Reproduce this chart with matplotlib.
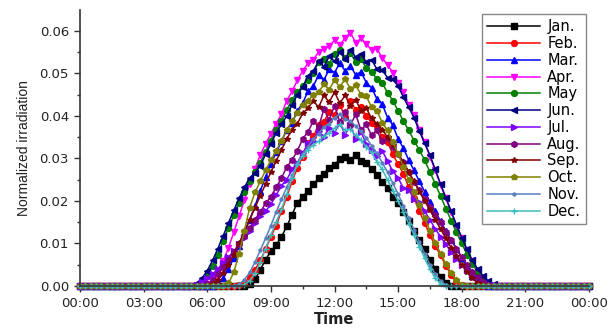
import numpy as np
import matplotlib
matplotlib.use("Agg")
import matplotlib.pyplot as plt
from matplotlib.ticker import MultipleLocator, FormatStrFormatter

# normalized irradiation, read at 15 min steps (values x 1e-3)
STEP = 0.25
months = ["Jan.", "Feb.", "Mar.", "Apr.", "May", "Jun.",
          "Jul.", "Aug.", "Sep.", "Oct.", "Nov.", "Dec."]
# hour of first sample of each month list
rise = [7.75, 7.25, 6.25, 5.75, 5.5, 5.25, 5.25, 5.75, 6.0, 6.75, 7.25, 7.5]

jan = [0, 0.4, 1.6, 3.8, 6.2, 8.2, 9.6, 11.6, 14.0, 16.8, 19.6, 21.0, 22.4, 23.9,
       25.3, 26.4, 27.8, 28.5, 29.8, 30.4, 29.6, 30.9, 29.4, 28.9, 27.4, 26.0, 24.5,
       23.1, 21.0, 19.4, 17.5, 15.2, 13.0, 10.8, 8.6, 6.2, 4.1, 2.2, 0.8, 0.1, 0]
feb = [0, 0.2, 0.8, 2.0, 3.8, 6.0, 8.6, 11.6, 14.2, 17.6, 21.0, 24.6, 27.8, 30.4,
       33.6, 35.2, 37.8, 38.6, 41.0, 40.2, 42.6, 39.8, 43.6, 41.4, 42.2, 40.0, 38.4,
       37.6, 35.0, 33.8, 31.0, 28.6, 26.4, 23.2, 20.8, 17.6, 14.8, 12.0, 9.4, 7.2,
       4.8, 2.6, 1.0, 0.2, 0]
mar = [0, 0.5, 1.8, 4.0, 6.6, 9.4, 12.4, 15.6, 18.8, 22.4, 25.6, 28.8, 31.4, 34.0,
       36.8, 38.4, 41.2, 43.0, 45.8, 47.0, 49.6, 48.4, 51.0, 50.2, 52.4, 50.6, 51.8,
       49.6, 50.4, 47.8, 46.6, 44.0, 42.8, 39.6, 37.8, 34.6, 32.4, 29.6, 27.2, 24.6,
       22.2, 19.8, 17.6, 15.2, 13.0, 10.8, 8.8, 6.6, 4.4, 2.4, 0.9, 0.2, 0]
apr = [0, 0.4, 1.4, 3.2, 5.8, 9.0, 12.6, 16.4, 20.2, 24.0, 27.6, 30.8, 33.4, 35.8,
       38.2, 40.4, 43.6, 45.8, 48.4, 50.6, 52.4, 53.2, 55.0, 55.8, 56.4, 57.8, 56.6,
       58.4, 59.6, 57.2, 58.2, 57.0, 55.4, 55.8, 53.6, 52.0, 50.2, 47.8, 45.6, 42.6,
       40.2, 36.8, 33.8, 30.4, 27.2, 23.8, 20.6, 17.4, 14.2, 11.2, 8.4, 5.8, 3.6,
       1.8, 0.6, 0]
may = [0, 0.8, 2.4, 4.6, 7.4, 10.6, 13.6, 16.6, 19.6, 22.2, 24.6, 26.8, 29.0, 31.6,
       34.0, 36.6, 38.8, 41.4, 43.8, 45.6, 47.0, 48.4, 50.2, 52.6, 53.4, 52.2, 54.6,
       55.4, 53.6, 54.8, 52.6, 53.4, 51.2, 50.4, 48.6, 47.8, 45.4, 43.6, 41.2, 38.8,
       36.6, 34.2, 32.0, 29.6, 26.8, 24.0, 21.2, 18.2, 15.4, 12.6, 10.0, 7.4, 5.2,
       3.2, 1.6, 0.5, 0]
jun = [0, 0.6, 1.8, 3.6, 6.0, 8.8, 11.8, 14.8, 17.8, 20.6, 23.2, 25.4, 26.6, 28.2,
       31.0, 33.4, 36.0, 38.0, 40.0, 42.6, 45.0, 46.8, 49.4, 50.6, 52.8, 51.6, 54.0,
       52.8, 55.0, 53.4, 55.6, 53.8, 54.6, 52.6, 53.2, 51.0, 50.8, 49.0, 48.6, 47.0,
       44.4, 42.0, 39.6, 36.4, 33.6, 30.8, 27.4, 24.0, 20.8, 17.6, 14.4, 11.4, 8.6,
       6.0, 4.0, 2.4, 1.2, 0.4, 0]
jul = [0, 0.3, 0.9, 1.8, 2.8, 4.0, 5.4, 6.8, 8.2, 9.8, 11.4, 13.0, 14.8, 16.4, 17.6,
       19.2, 21.4, 23.6, 25.0, 27.4, 29.0, 31.2, 33.6, 34.2, 36.4, 35.0, 37.2, 36.0,
       38.4, 35.6, 37.8, 34.6, 36.2, 33.4, 32.0, 30.6, 31.8, 29.4, 27.0, 25.4, 23.0,
       22.6, 20.4, 19.8, 17.6, 15.6, 13.4, 11.6, 9.8, 8.0, 6.4, 5.0, 3.8, 2.6, 1.6,
       1.0, 0.5, 0.2, 0]
aug = [0, 0.5, 1.4, 2.8, 4.4, 6.2, 8.0, 9.8, 11.8, 13.6, 15.6, 17.4, 19.4, 21.0,
       23.2, 25.4, 28.0, 29.6, 31.8, 34.6, 36.2, 38.8, 37.4, 41.6, 39.0, 42.4, 38.6,
       41.0, 37.8, 40.4, 36.6, 38.0, 35.4, 36.6, 34.0, 34.8, 32.6, 31.0, 29.2, 26.8,
       24.4, 22.6, 20.4, 18.6, 16.8, 15.0, 12.8, 10.8, 8.8, 6.8, 5.0, 3.4, 2.0, 1.0,
       0.3, 0]
sep = [0, 0.4, 1.4, 3.0, 5.0, 7.4, 10.0, 12.8, 15.6, 18.4, 21.2, 24.0, 26.8, 29.4,
       32.0, 34.6, 36.8, 38.2, 40.6, 41.8, 43.6, 42.0, 44.8, 43.2, 45.6, 43.0, 44.8,
       42.4, 43.8, 41.2, 41.8, 39.4, 38.2, 36.8, 35.0, 33.2, 31.0, 29.0, 26.8, 24.6,
       22.2, 20.0, 17.8, 15.6, 13.4, 11.2, 9.0, 7.0, 5.0, 3.2, 1.8, 0.8, 0.2, 0]
oct_ = [0, 0.6, 3.2, 7.6, 13.0, 18.4, 22.0, 24.6, 27.2, 29.6, 31.8, 34.2, 36.6, 38.8,
        40.6, 42.6, 43.6, 45.0, 45.6, 47.4, 46.2, 48.4, 46.8, 48.6, 46.4, 47.2, 45.0,
        44.6, 42.0, 41.2, 38.4, 36.6, 33.8, 31.0, 28.0, 25.0, 22.0, 19.0, 16.0, 13.0,
        10.2, 7.6, 5.2, 3.0, 1.3, 0.3, 0]
nov = [0, 0.4, 1.4, 3.2, 5.6, 8.4, 11.2, 14.2, 17.4, 20.4, 23.2, 26.0, 28.8, 31.0,
       32.8, 34.6, 35.8, 37.4, 38.2, 39.6, 40.4, 39.2, 38.8, 37.6, 36.4, 34.8, 33.0,
       31.2, 29.0, 26.8, 24.2, 21.6, 18.8, 16.0, 13.2, 10.4, 7.6, 5.0, 2.8, 1.2, 0.3, 0]
dec = [0, 0.3, 1.2, 3.0, 5.6, 8.8, 12.0, 15.0, 18.0, 21.6, 25.4, 28.6, 30.6, 32.0,
       33.2, 34.0, 35.2, 36.0, 37.1, 38.0, 36.6, 36.9, 35.4, 34.4, 32.6, 31.4, 29.2,
       27.4, 25.0, 22.4, 20.0, 17.4, 14.6, 12.0, 9.2, 6.6, 4.0, 1.8, 0.5, 0]

series = [jan, feb, mar, apr, may, jun, jul, aug, sep, oct_, nov, dec]

xtick_labels = ["00:00", "03:00", "06:00", "09:00", "12:00", "15:00",
                "18:00", "21:00", "00:00"]

colors = ["#000000", "#ff0000", "#0000ff", "#ff00ff", "#008000", "#000080",
          "#8000ff", "#800080", "#800000", "#808000", "#5a7fbf", "#3cbcbc"]
markers = ["s", "o", "^", "v", "o", "<", ">", "h", "*", "p", ".", "+"]

t = np.arange(0, 24 + STEP / 2, STEP)

fig = plt.figure(figsize=(6.1, 3.29), dpi=100)
ax = fig.add_axes([80 / 610, 1 - 286 / 329, 509 / 610, 276 / 329])

for name, vals, r, c, m in zip(months, series, rise, colors, markers):
    y = np.zeros(len(t))
    i0 = int(round(r / STEP))
    y[i0:i0 + len(vals)] = np.array(vals) / 1000.0
    ax.plot(t, y, color=c, marker=m, ms=4.2, lw=1.1, label=name, clip_on=False)

ax.set_xlim(0, 24)
ax.set_ylim(0, 0.0649)
ax.set_xticks(np.arange(0, 25, 3))
ax.set_xticklabels(xtick_labels)
ax.xaxis.set_minor_locator(MultipleLocator(1.5))
ax.yaxis.set_major_locator(MultipleLocator(0.01))
ax.yaxis.set_minor_locator(MultipleLocator(0.005))
ax.yaxis.set_major_formatter(FormatStrFormatter("%.2f"))

for s in ["top", "right"]:
    ax.spines[s].set_visible(False)
for s in ["left", "bottom"]:
    ax.spines[s].set_color("#333333")
    ax.spines[s].set_linewidth(1.2)

ax.tick_params(which="major", direction="out", length=4.5, width=1, color="#333333",
               labelsize=9.5, labelcolor="#222222")
ax.tick_params(which="minor", direction="out", length=2.5, width=1, color="#333333")
for lab in ax.get_xticklabels() + ax.get_yticklabels():
    lab.set_family("DejaVu Sans")

ax.set_xlabel("Time", fontsize=10.5, fontweight="bold", family="DejaVu Sans",
              color="#222222", labelpad=1)
ax.set_ylabel("Normalized irradiation", fontsize=10, family="Liberation Sans",
              color="#222222", labelpad=6)

leg = ax.legend(loc="upper right", bbox_to_anchor=(593 / 610, 1 - 7 / 329),
                bbox_transform=fig.transFigure, handlelength=3.6,
                labelspacing=0.12, borderpad=0.35, handletextpad=0.5,
                fancybox=False, framealpha=1, edgecolor="#888888",
                prop={"family": "DejaVu Sans", "size": 10.5})
leg.get_frame().set_linewidth(1.0)

fig.savefig("out.png", dpi=100)
